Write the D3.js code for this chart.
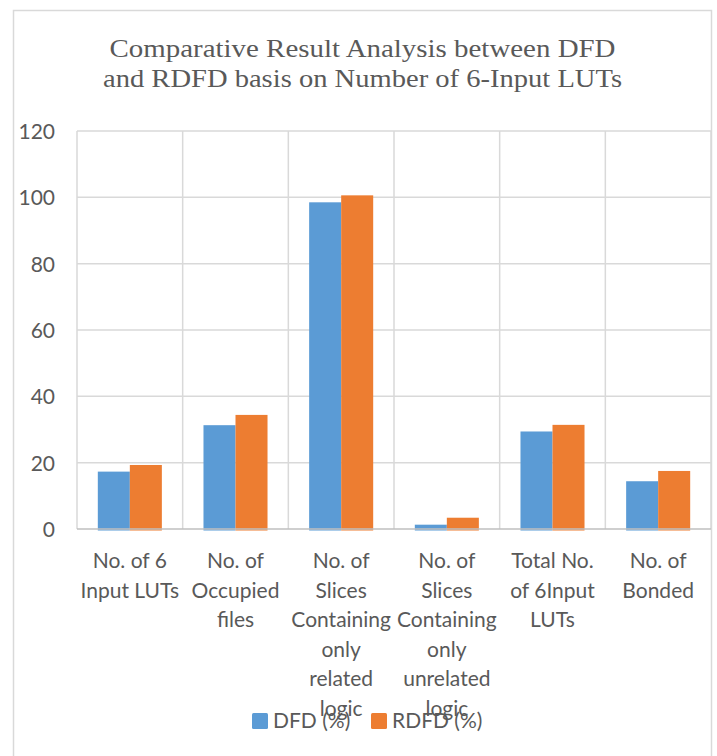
<!DOCTYPE html>
<html>
<head>
<meta charset="utf-8">
<script src="https://cdn.jsdelivr.net/npm/d3@7"></script>
<style>
  body { margin: 0; background: #fff; }
  text { fill: #595959; }
</style>
</head>
<body>
<script>
// data
var categories = [
  ["No. of 6", "Input LUTs"],
  ["No. of", "Occupied", "files"],
  ["No. of", "Slices", "Containing", "only", "related", "logic"],
  ["No. of", "Slices", "Containing", "only", "unrelated", "logic"],
  ["Total No.", "of 6Input", "LUTs"],
  ["No. of", "Bonded"]
];
var seriesNames = ["DFD (%)", "RDFD (%)"];
var dfd  = [17.3, 31.3, 98.5, 1.3, 29.4, 14.4];
var rdfd = [19.3, 34.4, 100.6, 3.4, 31.4, 17.5];
var yTicks = [0, 20, 40, 60, 80, 100, 120];
var colors = ["#5B9BD5", "#ED7D31"];
var titleLines = ["Comparative Result Analysis between DFD", "and RDFD basis on Number of 6-Input LUTs"];
var titleWidths = [506, 519];

var W = 717, H = 756;
var plot = {left: 77, right: 711, top: 131, bottom: 529};

var svg = d3.select("body").append("svg").attr("width", W).attr("height", H);

// chart frame
svg.append("rect").attr("x", 13.5).attr("y", 10.5).attr("width", 698).attr("height", 760)
    .attr("fill", "#fff").attr("stroke", "#d9d9d9").attr("stroke-width", 1.5);

// title (Cambria-like width, stretched to the reference line widths)
svg.append("g").selectAll("text").data(titleLines).enter().append("text")
    .attr("x", 362.5).attr("y", function(d, i){ return 57 + i * 29.5; })
    .attr("text-anchor", "middle")
    .attr("textLength", function(d, i){ return titleWidths[i]; })
    .attr("lengthAdjust", "spacingAndGlyphs")
    .style("font-family", "'Liberation Serif', serif").style("font-size", "26px")
    .text(function(d){ return d; });

var ids = d3.range(categories.length);
var x0 = d3.scaleBand().domain(ids).range([plot.left, plot.right]);
var x1 = d3.scaleBand().domain([0, 1]).range([0, x0.bandwidth()]).paddingOuter(0.65);
var y = d3.scaleLinear().domain([0, 120]).range([plot.bottom, plot.top]);

// horizontal gridlines
svg.append("g").selectAll("line").data(yTicks.slice(1)).enter().append("line")
    .attr("x1", plot.left).attr("x2", plot.right)
    .attr("y1", function(d){ return y(d); }).attr("y2", function(d){ return y(d); })
    .attr("stroke", "#d9d9d9").attr("stroke-width", 1.5);

// vertical gridlines between categories
svg.append("g").selectAll("line").data(d3.range(categories.length + 1)).enter().append("line")
    .attr("x1", function(d){ return plot.left + d * x0.step(); })
    .attr("x2", function(d){ return plot.left + d * x0.step(); })
    .attr("y1", plot.top).attr("y2", plot.bottom)
    .attr("stroke", "#d9d9d9").attr("stroke-width", 1.5);

// y axis labels
var yAxis = d3.axisLeft(y).tickValues(yTicks).tickSize(0).tickPadding(22);
var gy = svg.append("g").attr("transform", "translate(" + plot.left + ",0)").call(yAxis);
gy.select(".domain").remove();
gy.selectAll("text").style("font-family", "Lato, sans-serif").style("font-size", "21px")
    .attr("dy", "0.35em").style("fill", "#595959");

// bars
var rows = ids.map(function(i){ return [dfd[i], rdfd[i]]; });
var groups = svg.append("g").selectAll("g").data(rows).enter().append("g")
    .attr("transform", function(d, i){ return "translate(" + x0(i) + ",0)"; });
groups.selectAll("rect").data(function(d){ return d; }).enter().append("rect")
    .attr("x", function(d, j){ return x1(j); })
    .attr("width", x1.bandwidth())
    .attr("y", function(d){ return y(d); })
    .attr("height", function(d){ return plot.bottom + 1.5 - y(d); })
    .attr("fill", function(d, j){ return colors[j]; });

// baseline
svg.append("line").attr("x1", plot.left).attr("x2", plot.right)
    .attr("y1", plot.bottom).attr("y2", plot.bottom)
    .attr("stroke", "#bfbfbf").attr("stroke-width", 1.5);

// category labels
var labels = svg.append("g").selectAll("text").data(categories).enter().append("text")
    .attr("text-anchor", "middle")
    .style("font-family", "Lato, sans-serif").style("font-size", "21px");
labels.selectAll("tspan").data(function(d, i){ return d.map(function(s){ return {s: s, i: i}; }); })
    .enter().append("tspan")
    .attr("x", function(d){ return x0(d.i) + x0.bandwidth() / 2; })
    .attr("y", function(d, k){ return 568 + k * 29.5; })
    .text(function(d){ return d.s; });

// legend
var legendX = [252, 371];
var lg = svg.append("g").selectAll("g").data(seriesNames).enter().append("g")
    .attr("transform", function(d, i){ return "translate(" + legendX[i] + ",713)"; });
lg.append("rect").attr("width", 16).attr("height", 16).attr("rx", 1.5)
    .attr("fill", function(d, i){ return colors[i]; });
lg.append("text").attr("x", 21).attr("y", 15)
    .style("font-family", "Lato, sans-serif").style("font-size", "21px")
    .text(function(d){ return d; });
</script>
</body>
</html>
